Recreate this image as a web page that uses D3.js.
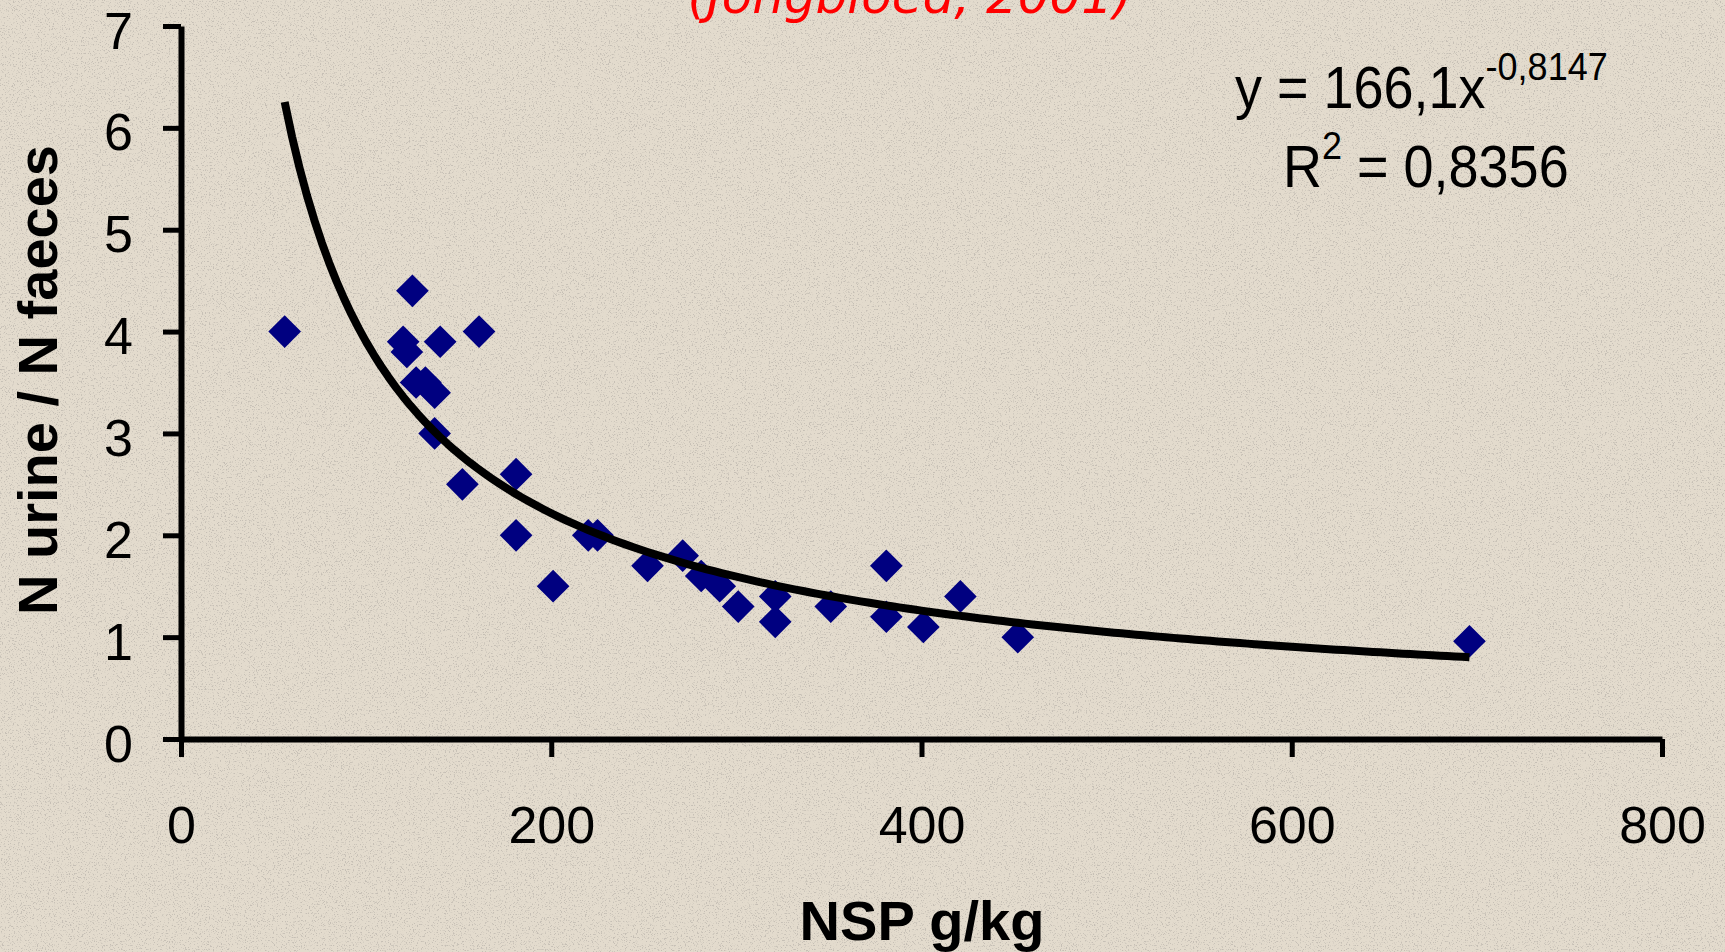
<!DOCTYPE html>
<html>
<head>
<meta charset="utf-8">
<script src="https://cdn.jsdelivr.net/npm/d3@7/dist/d3.min.js"></script>
<style>
  html, body { margin: 0; padding: 0; background: #e3dbcd; }
  svg { display: block; }
  text { white-space: pre; }
</style>
</head>
<body>
<div id="chart"></div>
<script>
// NSP (g/kg) vs N urine / N faeces
const nsp   = [56, 125, 120, 122, 140, 161, 127, 132, 137, 137, 152, 181, 181, 201, 220, 225,
               252, 271, 281, 291, 301, 321, 321, 351, 381, 381, 401, 421, 452, 696];
const ratio = [4.0, 4.4, 3.9, 3.8, 3.9, 4.0, 3.5, 3.5, 3.4, 3.0, 2.5, 2.6, 2.0, 1.5, 2.0, 2.0,
               1.7, 1.8, 1.6, 1.5, 1.3, 1.4, 1.15, 1.3, 1.7, 1.2, 1.1, 1.4, 1.0, 0.96];

const xTicks = [0, 200, 400, 600, 800];
const yTicks = [0, 1, 2, 3, 4, 5, 6, 7];

// power trendline shown on the chart: y = 166,1x^-0,8147
const trendA = 166.1;
const trendB = -0.8147;

const W = 1725, H = 952;
const svg = d3.select('#chart').append('svg')
  .attr('width', W)
  .attr('height', H);

// parchment background with some grain
const defs = svg.append('defs');
const grain = defs.append('filter').attr('id', 'grain')
  .attr('x', 0).attr('y', 0).attr('width', '100%').attr('height', '100%');
grain.append('feTurbulence')
  .attr('type', 'fractalNoise')
  .attr('baseFrequency', '0.75')
  .attr('numOctaves', 2)
  .attr('seed', 7)
  .attr('result', 'noise');
grain.append('feColorMatrix')
  .attr('in', 'noise')
  .attr('type', 'matrix')
  .attr('values', '0 0 0 0 0.45  0 0 0 0 0.42  0 0 0 0 0.38  7 0 0 0 -4.0');

svg.append('rect').attr('width', W).attr('height', H).attr('fill', '#e3dbcd');
svg.append('rect').attr('width', W).attr('height', H)
  .attr('filter', 'url(#grain)').attr('opacity', 0.6);

const x = d3.scaleLinear().domain([0, 800]).range([181, 1662]);
const y = d3.scaleLinear().domain([0, 7]).range([739, 26]);

// title (mostly cut off at the top, as in the source slide)
svg.append('text')
  .attr('x', 910)
  .attr('y', 13)
  .attr('text-anchor', 'middle')
  .attr('textLength', 445)
  .attr('lengthAdjust', 'spacingAndGlyphs')
  .style('font-family', '"DejaVu Sans", sans-serif')
  .style('font-style', 'italic')
  .style('font-size', '50px')
  .style('fill', '#ff0000')
  .text('(Jongbloed, 2001)');

// axes
const xAxis = svg.append('g')
  .attr('transform', `translate(0,${y(0)})`)
  .call(d3.axisBottom(x).tickValues(xTicks).tickSize(18).tickSizeOuter(0).tickFormat(d3.format('d')));

const yAxis = svg.append('g')
  .attr('transform', `translate(${x(0)},0)`)
  .call(d3.axisLeft(y).tickValues(yTicks).tickSize(18).tickSizeOuter(0).tickPadding(30).tickFormat(d3.format('d')));

[xAxis, yAxis].forEach(ax => {
  ax.select('.domain').attr('stroke', '#000').attr('stroke-width', 6);
  ax.selectAll('.tick line').attr('stroke', '#000').attr('stroke-width', 5);
  ax.selectAll('.tick text')
    .style('font-family', '"Liberation Sans", Arial, sans-serif')
    .style('font-size', '52px')
    .attr('fill', '#000');
});
xAxis.selectAll('.tick text').attr('y', 104).attr('dy', 0);
yAxis.selectAll('.tick text').attr('dy', 22);

// axis titles
svg.append('text')
  .attr('x', 922)
  .attr('y', 940)
  .attr('text-anchor', 'middle')
  .style('font-family', '"Liberation Sans", Arial, sans-serif')
  .style('font-weight', 'bold')
  .style('font-size', '56px')
  .text('NSP g/kg');

svg.append('text')
  .attr('transform', 'translate(57,380) rotate(-90)')
  .attr('text-anchor', 'middle')
  .style('font-family', '"Liberation Sans", Arial, sans-serif')
  .style('font-weight', 'bold')
  .style('font-size', '56px')
  .text('N urine / N faeces');

// data points (navy diamonds)
const points = nsp.map((v, i) => ({ nsp: v, ratio: ratio[i] }));
svg.selectAll('path.pt')
  .data(points)
  .enter()
  .append('path')
  .attr('class', 'pt')
  .attr('d', d3.symbol(d3.symbolSquare, 534))
  .attr('transform', d => `translate(${x(d.nsp)},${y(d.ratio)}) rotate(45)`)
  .attr('fill', '#000080');

// power trendline across the data range
const xMin = d3.min(nsp), xMax = d3.max(nsp);
const trendPts = d3.range(xMin, xMax, 4).concat([xMax]).map(v => [v, trendA * Math.pow(v, trendB)]);
svg.append('path')
  .datum(trendPts)
  .attr('d', d3.line().x(d => x(d[0])).y(d => y(d[1])))
  .attr('fill', 'none')
  .attr('stroke', '#000')
  .attr('stroke-width', 8)
  .attr('stroke-linejoin', 'round')
  .attr('stroke-linecap', 'butt');

// equation and R²
const eqFont = '"Liberation Sans", Arial, sans-serif';
const eq1 = svg.append('g').attr('transform', 'translate(1235,108) scale(1,1.1)')
  .append('text').style('font-family', eqFont).style('font-size', '54px');
eq1.append('tspan').text('y = 166,1x');
eq1.append('tspan').attr('dy', -25.5).style('font-size', '36px').text('-0,8147');

const eq2 = svg.append('g').attr('transform', 'translate(1283,187) scale(1,1.1)')
  .append('text').style('font-family', eqFont).style('font-size', '54px');
eq2.append('tspan').text('R');
eq2.append('tspan').attr('dy', -25.5).style('font-size', '36px').text('2');
eq2.append('tspan').attr('dy', 25.5).text(' = 0,8356');
</script>
</body>
</html>
